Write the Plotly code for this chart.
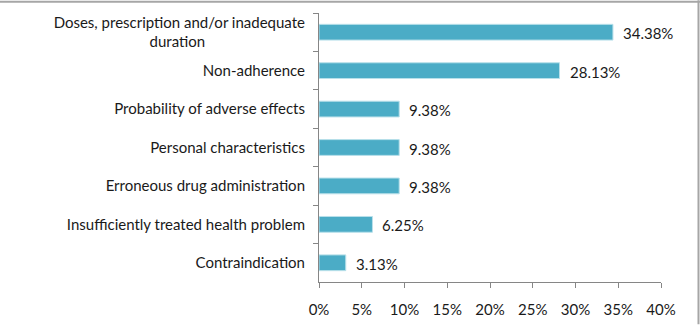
import plotly.graph_objects as go

NB = "\u00a0"
categories = [
    "Doses, prescription and/or inadequate<br>duration" + NB * 26,
    "Non-adherence",
    "Probability of adverse effects",
    "Personal characteristics",
    "Erroneous drug administration",
    "Insufficiently treated health problem",
    "Contraindication",
]
values = [34.38, 28.13, 9.38, 9.38, 9.38, 6.25, 3.13]
x_ticks = [0, 5, 10, 15, 20, 25, 30, 35, 40]
x_tick_labels = [f"{t}%" for t in x_ticks]

FONT = "Lato"
FS = 15
TXT = "#1a1a1a"
AX = "#868686"

fig = go.Figure()
fig.add_trace(go.Bar(
    x=values, y=categories, orientation="h",
    marker=dict(color="#4BACC6", line=dict(color="#b9e0ea", width=1)),
    width=0.41, hoverinfo="skip",
))
for c, v in zip(categories, values):
    fig.add_annotation(x=v, y=c, text=f"{v:.2f}%", showarrow=False,
                       xanchor="left", xshift=8, yshift=-1,
                       font=dict(family=FONT, size=FS, color=TXT))

L, R, T, B = 319, 39, 13, 43
W, H = 700, 330
pw, ph = W - L - R, H - T - B
fig.add_shape(type="line", xref="paper", yref="paper",
              x0=-L / pw, x1=(W - L) / pw, y0=1 + (T - 1.5) / ph, y1=1 + (T - 1.5) / ph,
              line=dict(color="#a6a6a6", width=2))
fig.add_shape(type="line", xref="paper", yref="paper",
              x0=(698.5 - L) / pw, x1=(698.5 - L) / pw, y0=-B / ph, y1=1 + T / ph,
              line=dict(color="#a6a6a6", width=2))

fig.update_layout(
    width=W, height=H,
    margin=dict(l=L, r=R, t=T, b=B),
    paper_bgcolor="white", plot_bgcolor="white",
    showlegend=False,
    font=dict(family=FONT, size=FS, color=TXT),
    xaxis=dict(range=[0, 40], tickvals=x_ticks, ticktext=x_tick_labels,
               showgrid=False, zeroline=False, showline=True, linecolor=AX, linewidth=1,
               ticks="outside", ticklen=5, tickcolor=AX, ticklabelstandoff=9),
    yaxis=dict(categoryorder="array", categoryarray=categories, autorange="reversed",
               showgrid=False, zeroline=False, showline=True, linecolor=AX, linewidth=1,
               ticks="outside", ticklen=5, tickcolor=AX, tickson="boundaries",
               ticklabelstandoff=10),
)
fig.write_html("out.html")
